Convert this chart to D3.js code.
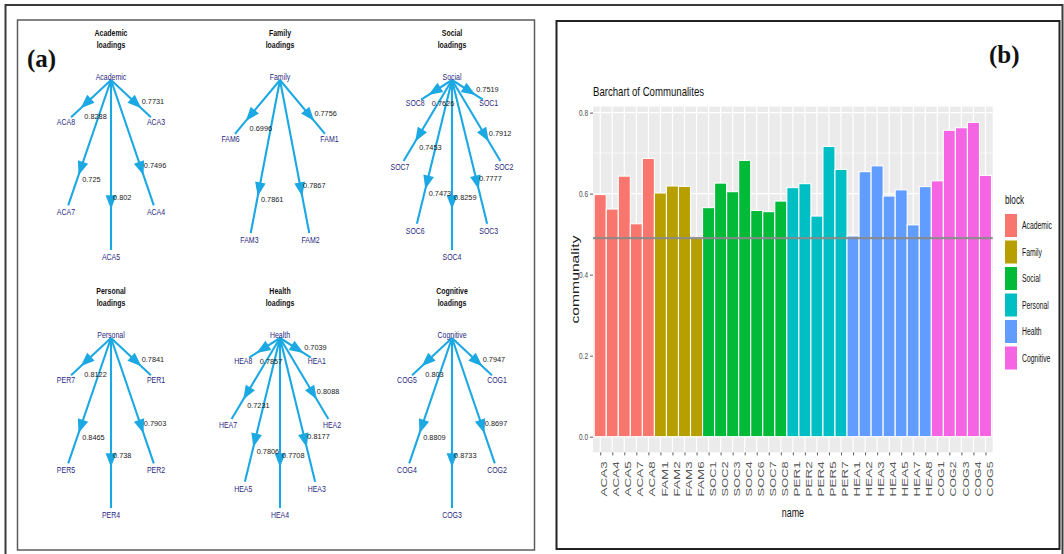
<!DOCTYPE html>
<html>
<head>
<meta charset="utf-8">
<script src="https://cdn.jsdelivr.net/npm/d3@7"></script>
<style>
  html, body { margin: 0; padding: 0; background: #fff; }
  svg { display: block; font-family: "Liberation Sans", Arial, sans-serif; }
</style>
</head>
<body>
<svg id="fig" width="1064" height="554"></svg>
<script>
// ---- factor blocks and their item loadings ----
const blockNames = ["Academic", "Family", "Social", "Personal", "Health", "Cognitive"];
const blockColors = ["#F8766D", "#B79F00", "#00BA38", "#00BFC4", "#619CFF", "#F564E3"];

const academicItems = ["ACA3", "ACA4", "ACA5", "ACA7", "ACA8"];
const academicLoadings = [0.7731, 0.7496, 0.802, 0.725, 0.8288];

const familyItems = ["FAM1", "FAM2", "FAM3", "FAM6"];
const familyLoadings = [0.7756, 0.7867, 0.7861, 0.6996];

const socialItems = ["SOC1", "SOC2", "SOC3", "SOC4", "SOC6", "SOC7", "SOC8"];
const socialLoadings = [0.7519, 0.7912, 0.7777, 0.8259, 0.7473, 0.7453, 0.7626];

const personalItems = ["PER1", "PER2", "PER4", "PER5", "PER7"];
const personalLoadings = [0.7841, 0.7903, 0.738, 0.8465, 0.8122];

const healthItems = ["HEA1", "HEA2", "HEA3", "HEA4", "HEA5", "HEA7", "HEA8"];
const healthLoadings = [0.7039, 0.8088, 0.8177, 0.7708, 0.7806, 0.7231, 0.7857];

const cognitiveItems = ["COG1", "COG2", "COG3", "COG4", "COG5"];
const cognitiveLoadings = [0.7947, 0.8697, 0.8733, 0.8809, 0.803];

// ---- communalities, one per item (same order as the item lists) ----
const academicCommunalities = [0.5977, 0.5619, 0.6432, 0.5256, 0.6869];
const familyCommunalities = [0.6016, 0.6189, 0.6180, 0.4894];
const socialCommunalities = [0.5654, 0.6260, 0.6048, 0.6821, 0.5585, 0.5555, 0.5816];
const personalCommunalities = [0.6148, 0.6246, 0.5446, 0.7166, 0.6597];
const healthCommunalities = [0.4955, 0.6542, 0.6686, 0.5941, 0.6093, 0.5229, 0.6173];
const cognitiveCommunalities = [0.6316, 0.7564, 0.7627, 0.7760, 0.6448];

const yTickValues = [0, 0.2, 0.4, 0.6, 0.8];
const yMinorValues = [0.1, 0.3, 0.5, 0.7];
const thresholdValue = 0.49;

const loadingBlocks = [
  { block: blockNames[0], items: academicItems, loadings: academicLoadings, comm: academicCommunalities },
  { block: blockNames[1], items: familyItems, loadings: familyLoadings, comm: familyCommunalities },
  { block: blockNames[2], items: socialItems, loadings: socialLoadings, comm: socialCommunalities },
  { block: blockNames[3], items: personalItems, loadings: personalLoadings, comm: personalCommunalities },
  { block: blockNames[4], items: healthItems, loadings: healthLoadings, comm: healthCommunalities },
  { block: blockNames[5], items: cognitiveItems, loadings: cognitiveLoadings, comm: cognitiveCommunalities }
];

const svg = d3.select("#fig");
svg.append("rect").attr("width", 1064).attr("height", 554).attr("fill", "#fff");

// horizontally condensed text helper
function ctext(g, x, y, str, o) {
  const t = g.append("text")
    .attr("transform", `translate(${x},${y}) scale(${o.sx || 1},1)`)
    .attr("font-size", o.size)
    .attr("fill", o.fill || "#111")
    .attr("text-anchor", o.anchor || "start")
    .text(str);
  if (o.weight) t.attr("font-weight", o.weight);
  if (o.family) t.attr("font-family", o.family);
  return t;
}

// ---- frames ----
svg.append("rect").attr("x", 5.5).attr("y", 5).attr("width", 1057).attr("height", 620)
  .attr("fill", "none").attr("stroke", "#3a3a3a").attr("stroke-width", 2);
svg.append("rect").attr("x", 17.5).attr("y", 20).attr("width", 517).attr("height", 530)
  .attr("fill", "none").attr("stroke", "#5c5c5c").attr("stroke-width", 1.5);
svg.append("rect").attr("x", 556.5).attr("y", 21).attr("width", 503).attr("height", 528)
  .attr("fill", "none").attr("stroke", "#222").attr("stroke-width", 2);

// ================= (a) loading diagrams =================
const diagram = svg.append("g");
const colCentres = [111, 280, 452];
const rowRoots = [77, 335];
const ringRx = 52, ringRy = 90;
const edgeColour = "#1CA8E2";

ctext(diagram, 27, 67, "(a)", { size: 25, fill: "#111", weight: "bold", family: "'Liberation Serif', serif" });

loadingBlocks.forEach((b, k) => {
  const cx = colCentres[k % 3];
  const top = rowRoots[Math.floor(k / 3)];
  const n = b.items.length + 1;
  const angle = d3.scaleLinear().domain([0, n]).range([0, 2 * Math.PI]);
  const g = diagram.append("g");

  ctext(g, cx, top - 41, b.block, { size: 8.5, sx: 0.82, anchor: "middle", fill: "#111", weight: "bold" });
  ctext(g, cx, top - 29, "loadings", { size: 8.5, sx: 0.82, anchor: "middle", fill: "#111", weight: "bold" });

  const start = { x: cx, y: top + 3 };
  const edges = g.append("g");
  const labels = g.append("g");

  b.items.forEach((item, i) => {
    const th = angle(i + 1);
    const lx = cx + ringRx * Math.sin(th);
    const ly = top + ringRy * (1 - Math.cos(th));
    const dx = lx - start.x, dy = ly - start.y;
    const len = Math.hypot(dx, dy);
    const ux = dx / len, uy = dy / len;
    const endLen = len - 7;
    const end = { x: start.x + ux * endLen, y: start.y + uy * endLen };

    edges.append("line")
      .attr("x1", start.x).attr("y1", start.y)
      .attr("x2", end.x).attr("y2", end.y)
      .attr("stroke", edgeColour).attr("stroke-width", 2.1);

    const tip = { x: start.x + ux * endLen * 0.76, y: start.y + uy * endLen * 0.76 };
    const base = { x: tip.x - ux * 14, y: tip.y - uy * 14 };
    const px = -uy, py = ux;
    edges.append("polygon")
      .attr("points", [
        [tip.x, tip.y],
        [base.x + px * 5.4, base.y + py * 5.4],
        [base.x - px * 5.4, base.y - py * 5.4]
      ].map(p => p.join(",")).join(" "))
      .attr("fill", edgeColour);

    const anchor = { x: start.x + ux * endLen * 0.72, y: start.y + uy * endLen * 0.72 };
    ctext(labels, anchor.x + 2, anchor.y + (dx < -0.5 ? 12 : -2.5), String(b.loadings[i]),
      { size: 8, sx: 0.92, fill: "#1a1a1a" });

    ctext(labels, lx, ly + 3, item, { size: 8.5, sx: 0.82, anchor: "middle", fill: "#2A2780" });
  });

  ctext(labels, cx, top + 3, b.block, { size: 8.5, sx: 0.82, anchor: "middle", fill: "#2A2780" });
});

// ================= (b) bar chart of communalities =================
const chart = svg.append("g");
const itemNames = loadingBlocks.flatMap(b => b.items);
const bars = loadingBlocks.flatMap(b => b.items.map((name, i) => ({ name, value: b.comm[i], block: b.block })));

const px0 = 593, px1 = 992.7, py0 = 106.6, py1 = 452.4;
const maxC = d3.max(bars, d => d.value);
const expand = maxC * 0.05;

const x = d3.scalePoint().domain(itemNames).range([px0, px1]).padding(0.6);
const y = d3.scaleLinear().domain([-expand, maxC + expand]).range([py1, py0]);
const colour = d3.scaleOrdinal().domain(blockNames).range(blockColors);
const step = x.step();

ctext(svg, 989, 63, "(b)", { size: 25, fill: "#111", weight: "bold", family: "'Liberation Serif', serif" });

ctext(chart, px0, 96, "Barchart of Communalites", { size: 13, sx: 0.74, fill: "#111" });

// panel background and grid
chart.append("rect").attr("x", px0).attr("y", py0).attr("width", px1 - px0).attr("height", py1 - py0)
  .attr("fill", "#EBEBEB");
chart.append("g").selectAll("line").data(yMinorValues).join("line")
  .attr("x1", px0).attr("x2", px1).attr("y1", d => y(d)).attr("y2", d => y(d))
  .attr("stroke", "#fff").attr("stroke-width", 0.6);
chart.append("g").selectAll("line").data(yTickValues).join("line")
  .attr("x1", px0).attr("x2", px1).attr("y1", d => y(d)).attr("y2", d => y(d))
  .attr("stroke", "#fff").attr("stroke-width", 1.2);
chart.append("g").selectAll("line").data(itemNames).join("line")
  .attr("x1", d => x(d)).attr("x2", d => x(d)).attr("y1", py0).attr("y2", py1)
  .attr("stroke", "#fff").attr("stroke-width", 1.2);

// bars
chart.append("g").selectAll("rect").data(bars).join("rect")
  .attr("x", d => x(d.name) - step / 2)
  .attr("width", step)
  .attr("y", d => y(d.value))
  .attr("height", d => y(0) - y(d.value))
  .attr("fill", d => colour(d.block))
  .attr("stroke", "#fff").attr("stroke-width", 1.1);

// threshold line
chart.append("line")
  .attr("x1", px0).attr("x2", px1)
  .attr("y1", y(thresholdValue)).attr("y2", y(thresholdValue))
  .attr("stroke", "#8a8a8a").attr("stroke-width", 2.2).attr("opacity", 0.9);

// y axis
const yAxis = chart.append("g").attr("transform", `translate(${px0},0)`)
  .call(d3.axisLeft(y).tickValues(yTickValues).tickSize(3).tickFormat(d3.format(".1f")));
yAxis.select(".domain").remove();
yAxis.selectAll(".tick line").attr("stroke", "#333").attr("stroke-width", 0.8);
yAxis.selectAll(".tick text")
  .attr("font-size", 9).attr("font-family", "'Liberation Sans', Arial, sans-serif")
  .attr("fill", "#4D4D4D")
  .attr("x", -5 / 0.72)
  .attr("transform", "scale(0.72,1)");

// x axis
const xAxis = chart.append("g").attr("transform", `translate(0,${py1})`)
  .call(d3.axisBottom(x).tickSize(3));
xAxis.select(".domain").remove();
xAxis.selectAll(".tick line").attr("stroke", "#333").attr("stroke-width", 0.8);
xAxis.selectAll(".tick text")
  .attr("font-size", 9).attr("font-family", "'Liberation Sans', Arial, sans-serif")
  .attr("fill", "#555")
  .attr("transform", "rotate(-90)")
  .attr("x", -9).attr("y", 6.6).attr("dy", 0)
  .attr("text-anchor", "end")
  .attr("textLength", 35).attr("lengthAdjust", "spacingAndGlyphs");

// axis titles
chart.append("text")
  .attr("transform", `translate(579,${(py0 + py1) / 2}) rotate(-90)`)
  .attr("text-anchor", "middle")
  .attr("font-size", 11).attr("fill", "#222")
  .attr("textLength", 88).attr("lengthAdjust", "spacingAndGlyphs")
  .text("communality");
ctext(chart, (px0 + px1) / 2, 517, "name", { size: 12, sx: 0.74, anchor: "middle", fill: "#111" });

// legend
const legend = chart.append("g");
ctext(legend, 1005, 204, "block", { size: 12, sx: 0.68, fill: "#111" });
const keyTop = 214, keyStep = 26.5;
legend.selectAll("rect").data(blockNames).join("rect")
  .attr("x", 1005).attr("y", (d, i) => keyTop + i * keyStep)
  .attr("width", 12).attr("height", 23)
  .attr("fill", d => colour(d));
blockNames.forEach((name, i) => {
  ctext(legend, 1022, keyTop + i * keyStep + 15, name, { size: 10, sx: 0.68, fill: "#111" });
});
</script>
</body>
</html>
